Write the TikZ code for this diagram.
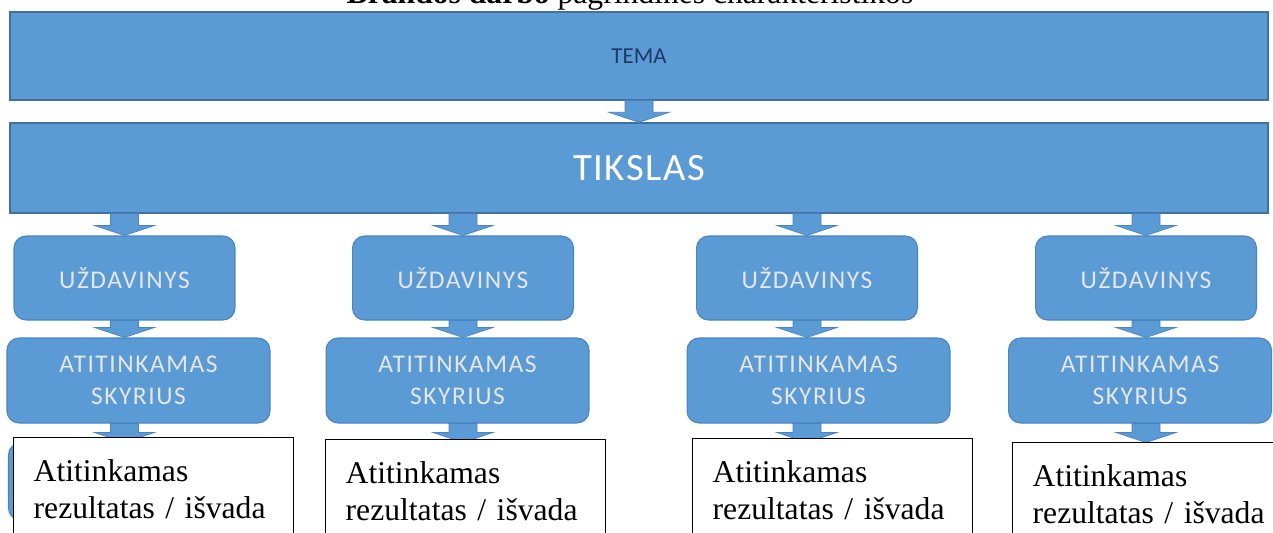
\documentclass[tikz,border=0pt]{standalone}
\usepackage{fontspec}
\setmainfont{Liberation Serif}
\newfontfamily\smartfont{Carlito}
\newfontfamily\smartwide[LetterSpace=6]{Carlito}
\newfontfamily\smarttitle[LetterSpace=4]{Carlito}
\usetikzlibrary{calc}

\definecolor{boxblue}{HTML}{5B9BD5}
\definecolor{boxedge}{HTML}{41719C}
\definecolor{softedge}{HTML}{4A84C0}
\definecolor{temanavy}{HTML}{1F3864}
\definecolor{labelgray}{HTML}{E6E6E6}

% block arrow: from, to, node giving the x position
\newcommand{\blockarrow}[3]{%
  \path[blockarr] let \p1=(#1.south), \p2=(#2.north), \p3=(#3) in
    (\x3-0.28cm,\y1) -- (\x3+0.28cm,\y1) -- (\x3+0.28cm,\y2+0.2cm) -- (\x3+0.6cm,\y2+0.2cm)
    -- (\x3,\y2) -- (\x3-0.6cm,\y2+0.2cm) -- (\x3-0.28cm,\y2+0.2cm) -- cycle;}

\begin{document}
\begin{tikzpicture}[
  x=0.02cm, y=-0.02cm,
    every node/.style={inner sep=0pt},
    bar/.style={rectangle, draw=boxedge, line width=0.8pt, fill=boxblue, minimum width=25.16cm},
    task/.style={rectangle, rounded corners=0.24cm, draw=softedge, line width=0.6pt, fill=boxblue, minimum width=4.42cm, minimum height=1.68cm, text=labelgray, font=\smartwide\fontsize{14.5}{18}\selectfont, align=center},
    chapter/.style={task, minimum width=5.26cm, minimum height=1.7cm},
    resultbg/.style={rectangle, rounded corners=0.24cm, draw=softedge, line width=0.6pt, fill=boxblue, minimum width=5.16cm, minimum height=1.54cm},
    result/.style={rectangle, draw=black, line width=0.8pt, fill=white, anchor=north west, text width=4.8cm, inner xsep=0.4cm, inner ysep=0.44cm, align=left, font=\fontsize{18}{21}\selectfont},
    blockarr/.style={fill=boxblue, draw=softedge, line width=0.4pt}
]
\useasboundingbox (0,0) rectangle (1273,532);
\clip (0,0) rectangle (1273,532);

% Title (cut at the top)
\node (title) [anchor=base, font=\fontsize{18}{21}\selectfont] at (630,3) {\textbf{Brandos darbo} pagrindinės charakteristikos};

% Topic and aim
\node (tema) [bar, minimum height=1.76cm, text=temanavy, font=\smartfont\fontsize{13}{15}\selectfont] at (639,56) {TEMA};
\node (tikslas) [bar, minimum height=1.8cm, text=white, font=\smarttitle\fontsize{22}{26}\selectfont] at (639,168) {TIKSLAS};

% Tasks
\node (uzd1) [task] at (124.5,278) {UŽDAVINYS};
\node (uzd2) [task] at (463,278) {UŽDAVINYS};
\node (uzd3) [task] at (807,278) {UŽDAVINYS};
\node (uzd4) [task] at (1146,278) {UŽDAVINYS};

% Chapters
\node (skyr1) [chapter] at (138.5,380.5) {ATITINKAMAS\\SKYRIUS};
\node (skyr2) [chapter] at (457.5,380.5) {ATITINKAMAS\\SKYRIUS};
\node (skyr3) [chapter] at (818.5,380.5) {ATITINKAMAS\\SKYRIUS};
\node (skyr4) [chapter] at (1140,380.5) {ATITINKAMAS\\SKYRIUS};

% Blue boxes under the results
\node (rezbg1) [resultbg] at (137.5,481.5) {};
\node (rezbg2) [resultbg] at (459,481.5) {};
\node (rezbg3) [resultbg] at (822,481.5) {};
\node (rezbg4) [resultbg] at (1146,481.5) {};

% Arrows
\blockarrow{tema}{tikslas}{tikslas}
\blockarrow{tikslas}{uzd1}{uzd1}
\blockarrow{tikslas}{uzd2}{uzd2}
\blockarrow{tikslas}{uzd3}{uzd3}
\blockarrow{tikslas}{uzd4}{uzd4}
\blockarrow{uzd1}{skyr1}{uzd1}
\blockarrow{uzd2}{skyr2}{uzd2}
\blockarrow{uzd3}{skyr3}{uzd3}
\blockarrow{uzd4}{skyr4}{uzd4}
\blockarrow{skyr1}{rezbg1}{uzd1}
\blockarrow{skyr2}{rezbg2}{uzd2}
\blockarrow{skyr3}{rezbg3}{uzd3}
\blockarrow{skyr4}{rezbg4}{uzd4}

% Results / conclusions
\node (rez1) [result] at (13,437) {Atitinkamas\\rezultatas / išvada};
\node (rez2) [result] at (325,439) {Atitinkamas\\rezultatas / išvada};
\node (rez3) [result] at (692,438) {Atitinkamas\\rezultatas / išvada};
\node (rez4) [result] at (1012,442) {Atitinkamas\\rezultatas / išvada};

\end{tikzpicture}
\end{document}
